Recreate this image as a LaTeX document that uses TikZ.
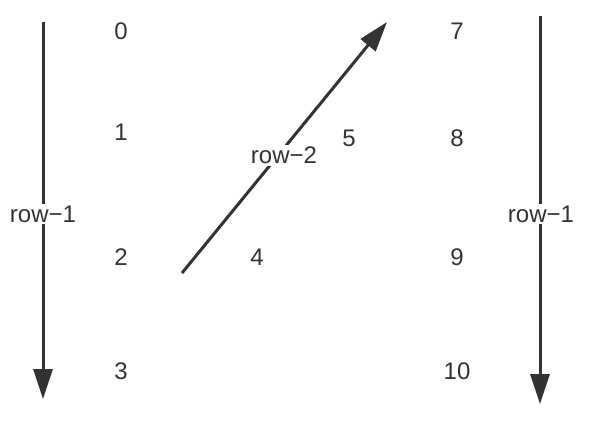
\documentclass[tikz,border=0pt]{standalone}
\usepackage{fontspec}
\setmainfont{Liberation Sans}
\usetikzlibrary{arrows.meta}
\definecolor{ink}{HTML}{333333}
\tikzset{
  arr/.style={draw=ink, line width=3pt, -{Triangle[length=30pt, width=19pt]}},
  num/.style={text=ink, font=\fontsize{24}{28}\selectfont, inner sep=0pt},
  lbl/.style={text=ink, font=\fontsize{24}{28}\selectfont, fill=white, inner sep=2pt},
}
\begin{document}
\begin{tikzpicture}[x=1pt,y=-1pt]
\useasboundingbox[fill=white] (0,0) rectangle (604,424);
% left arrow
\coordinate (l0) at (43,22);
\coordinate (l1) at (43,399);
\draw[arr] (l0) -- (l1);
\node[lbl] (lr) at (43,214) {row−1};
% right arrow
\coordinate (r0) at (540,16);
\coordinate (r1) at (540,404);
\draw[arr] (r0) -- (r1);
\node[lbl] (rr) at (541,214) {row−1};
% diagonal
\coordinate (d0) at (182,273);
\coordinate (d1) at (387,22);
\draw[arr] (d0) -- (d1);
\node[lbl] (dr) at (284,155) {row−2};
% numbers
\node[num] (n0) at (121,31) {0};
\node[num] (n1) at (121,132) {1};
\node[num] (n2) at (121,257) {2};
\node[num] (n3) at (121,371) {3};
\node[num] (n4) at (257,257) {4};
\node[num] (n5) at (349,138) {5};
\node[num] (n7) at (457,31) {7};
\node[num] (n8) at (457,138) {8};
\node[num] (n9) at (457,257) {9};
\node[num] (n10) at (457,371) {10};
\end{tikzpicture}
\end{document}
